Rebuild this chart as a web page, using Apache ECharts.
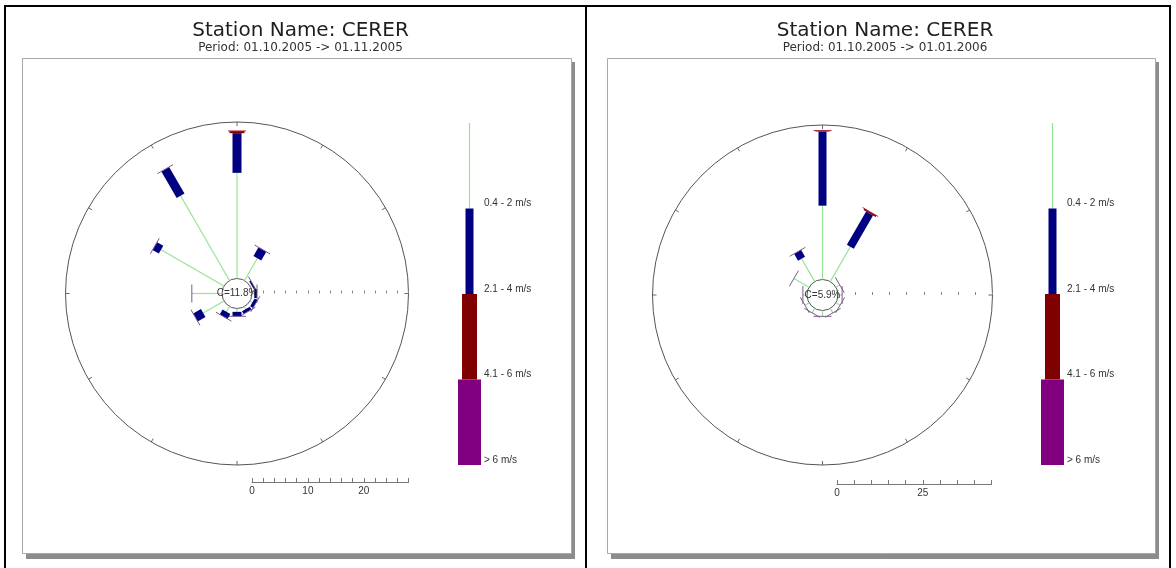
<!DOCTYPE html>
<html>
<head>
<meta charset="utf-8">
<script src="https://cdn.jsdelivr.net/npm/echarts@6/dist/echarts.min.js"></script>
<style>
html, body { margin: 0; padding: 0; background: #fff; }
#main { width: 1176px; height: 568px; }
</style>
</head>
<body>
<div id="main"></div>
<script>
// directions in degrees from north, 12 sectors
var directions = [0, 30, 60, 90, 120, 150, 180, 210, 240, 270, 300, 330];
var speedClasses = ['0.4 - 2 m/s', '2.1 - 4 m/s', '4.1 - 6 m/s', '> 6 m/s'];
var classColors = ['#95e495', '#000080', '#800000', '#800080'];

// panel 1 : 01.10.2005 -> 01.11.2005, frequency in %
var octGreen  = [18.9, 4.6, 0.3, 0.4, 0.5, 0.5, 0.6, 1.1, 4.3, 5.4, 13.0, 17.5];
var octBlue   = [7.1, 1.8, 0.3, 0.5, 0.6, 0.6, 0.8, 1.0, 1.6, 0, 1.3, 5.5];
var octRed    = [0.4, 0, 0, 0, 0, 0, 0, 0, 0, 0, 0, 0];
var octPurple = [0, 0, 0, 0, 0, 0, 0, 0, 0, 0, 0, 0];
var octCalm = 11.8;

// panel 2 : 01.10.2005 -> 01.01.2006
var decGreen  = [21.5, 11.7, 1.3, 1.2, 1.4, 1.5, 1.7, 1.5, 1.4, 1.2, 5.1, 7.7];
var decBlue   = [21.6, 11.2, 0, 0, 0, 0, 0, 0, 0, 0, 0, 2.3];
var decRed    = [0.3, 0.5, 0, 0, 0, 0, 0, 0, 0, 0, 0, 0];
var decPurple = [0, 0, 0, 0, 0, 0, 0, 0, 0, 0, 0, 0];
var decCalm = 5.9;

var periods = ['Period: 01.10.2005 -> 01.11.2005', 'Period: 01.10.2005 -> 01.01.2006'];
var stationName = 'Station Name: CERER';
var scaleMax = [28, 45];
var scaleStep = [2, 5];
var scaleLabelStep = [10, 25];

function rows(g, b, r, p) {
  return directions.map(function (d, i) { return [d, g[i], b[i], r[i], p[i]]; });
}

var dom = document.getElementById('main');
var myChart = echarts.init(dom, null, { renderer: 'canvas' });

function makeRenderer(calm, widths) {
  return function (params, api) {
    var a = (api.value(0) - 90 + 360) % 360;
    var vals = [api.value(1), api.value(2), api.value(3), api.value(4)];
    var p0 = api.coord([0, a]);
    var p1 = api.coord([1, a]);
    var ux = p1[0] - p0[0], uy = p1[1] - p0[1];
    var len = Math.sqrt(ux * ux + uy * uy);
    ux /= len; uy /= len;
    var nx = -uy, ny = ux;
    var children = [];
    var r = 0;
    for (var k = 0; k < 4; k++) {
      var v = vals[k];
      var s = api.coord([r, a]);
      var e = api.coord([r + v, a]);
      r += v;
      if (!(v > 0)) continue;
      if (k === 0) {
        children.push({ type: 'line', shape: { x1: s[0], y1: s[1], x2: e[0], y2: e[1] },
          style: { stroke: classColors[0], lineWidth: 1.2 } });
      } else {
        var h = widths[k] / 2;
        children.push({ type: 'polygon', shape: { points: [
          [s[0] + nx * h, s[1] + ny * h], [e[0] + nx * h, e[1] + ny * h],
          [e[0] - nx * h, e[1] - ny * h], [s[0] - nx * h, s[1] - ny * h]] },
          style: { fill: classColors[k] } });
      }
    }
    var end = api.coord([r, a]);
    var c = 9;
    children.push({ type: 'line', shape: { x1: end[0] + nx * c, y1: end[1] + ny * c, x2: end[0] - nx * c, y2: end[1] - ny * c },
      style: { stroke: vals[2] > 0 ? '#b0304a' : '#7a5c8c', lineWidth: 1 } });
    if (params.dataIndex === 0) {
      children.push({ type: 'text', x: params.coordSys.cx, y: params.coordSys.cy,
        style: { text: 'C=' + calm + '%', fill: '#333', font: '10px "Liberation Sans", Arial, sans-serif',
          align: 'center', verticalAlign: 'middle' }, z2: 10 });
    }
    return { type: 'group', children: children };
  };
}

var panels = [
  { x: 22, y: 58, w: 549, h: 495, cx: 237, cy: 293.5, r0: 15, r: 171.5, legendX: 469, scaleY: 472, scaleLeft: 252 },
  { x: 607, y: 58, w: 548, h: 495, cx: 822.5, cy: 295, r0: 15.5, r: 170, legendX: 1052, scaleY: 474, scaleLeft: 837 }
];
var legendWidths = [1, 8, 15, 23];

var graphic = [];
// table lines
graphic.push({ type: 'rect', z: -20, shape: { x: 5, y: 6, width: 1165, height: 570 }, style: { fill: 'none', stroke: '#000', lineWidth: 2 } });
graphic.push({ type: 'line', z: -20, shape: { x1: 586, y1: 6, x2: 586, y2: 568 }, style: { stroke: '#000', lineWidth: 2 } });

panels.forEach(function (pn, i) {
  graphic.push({ type: 'rect', z: -12, shape: { x: pn.x + 4, y: pn.y + 4, width: pn.w, height: pn.h + 2 }, style: { fill: '#8c8c8c' } });
  graphic.push({ type: 'rect', z: -11, shape: { x: pn.x + 0.5, y: pn.y + 0.5, width: pn.w, height: pn.h }, style: { fill: '#fff', stroke: '#a8a8a8', lineWidth: 1 } });
  var tx = pn.x + pn.w / 2 + 4;
  graphic.push({ type: 'text', z: 10, x: tx, y: 31, style: { text: stationName, fill: '#1e1e1e', font: '20px "DejaVu Sans", sans-serif', align: 'center', verticalAlign: 'middle' } });
  graphic.push({ type: 'text', z: 10, x: tx, y: 48, style: { text: periods[i], fill: '#333', font: '12px "DejaVu Sans", sans-serif', align: 'center', verticalAlign: 'middle' } });
  // legend
  var top = 123, seg = 85.5;
  speedClasses.forEach(function (lbl, k) {
    var y0 = top + seg * k;
    if (k === 0) {
      graphic.push({ type: 'line', z: 10, shape: { x1: pn.legendX + 0.5, y1: y0, x2: pn.legendX + 0.5, y2: y0 + seg }, style: { stroke: classColors[0], lineWidth: 1.2 } });
    } else {
      graphic.push({ type: 'rect', z: 10, shape: { x: pn.legendX + 0.5 - legendWidths[k] / 2, y: y0, width: legendWidths[k], height: seg }, style: { fill: classColors[k] } });
    }
    graphic.push({ type: 'text', z: 10, x: pn.legendX + 15, y: y0 + seg - 5, style: { text: lbl, fill: '#333', font: '10px "Liberation Sans", Arial, sans-serif', verticalAlign: 'middle' } });
  });
});

var polar = panels.map(function (pn) { return { center: [pn.cx, pn.cy], radius: [pn.r0, pn.r] }; });
var angleAxis = panels.map(function (pn, i) {
  return { polarIndex: i, type: 'value', min: 0, max: 360, interval: 30, startAngle: 0, clockwise: true,
    axisLine: { show: true, lineStyle: { color: '#555', width: 1 } },
    axisTick: { show: true, inside: true, length: 4, lineStyle: { color: '#666' } },
    axisLabel: { show: false }, splitLine: { show: false }, splitArea: { show: false } };
});
var radiusAxis = panels.map(function (pn, i) {
  return { polarIndex: i, type: 'value', min: 0, max: scaleMax[i], interval: scaleStep[i],
    axisLine: { show: false }, axisTick: { show: true, length: 3, lineStyle: { color: '#888' } },
    axisLabel: { show: false }, splitLine: { show: false }, splitArea: { show: false } };
});
var grid = panels.map(function (pn, i) {
  return { left: pn.scaleLeft, top: pn.scaleY, width: pn.r - pn.r0, height: 10 };
});
var xAxis = panels.map(function (pn, i) {
  return { gridIndex: i, type: 'value', min: 0, max: scaleMax[i], interval: scaleStep[i],
    axisLine: { show: true, lineStyle: { color: '#777' } },
    axisTick: { show: true, inside: true, length: 4, lineStyle: { color: '#777' } },
    splitLine: { show: false },
    axisLabel: { color: '#333', fontSize: 10, fontFamily: 'Liberation Sans', margin: 4,
      formatter: function (v) { return v % scaleLabelStep[i] === 0 ? String(v) : ''; } } };
});
var yAxis = panels.map(function (pn, i) { return { gridIndex: i, type: 'value', show: false }; });

var option = {
  animation: false,
  backgroundColor: '#fff',
  graphic: graphic,
  polar: polar,
  angleAxis: angleAxis,
  radiusAxis: radiusAxis,
  grid: grid,
  xAxis: xAxis,
  yAxis: yAxis,
  series: [
    { type: 'custom', coordinateSystem: 'polar', polarIndex: 0, encode: { angle: 0, radius: 1 },
      renderItem: makeRenderer(octCalm, [1, 9, 15, 23]), data: rows(octGreen, octBlue, octRed, octPurple), z: 5 },
    { type: 'custom', coordinateSystem: 'polar', polarIndex: 1, encode: { angle: 0, radius: 1 },
      renderItem: makeRenderer(decCalm, [1, 8, 14, 22]), data: rows(decGreen, decBlue, decRed, decPurple), z: 5 }
  ]
};

if (option && typeof option === 'object') {
  myChart.setOption(option);
}
window.addEventListener('resize', myChart.resize);
</script>
</body>
</html>
